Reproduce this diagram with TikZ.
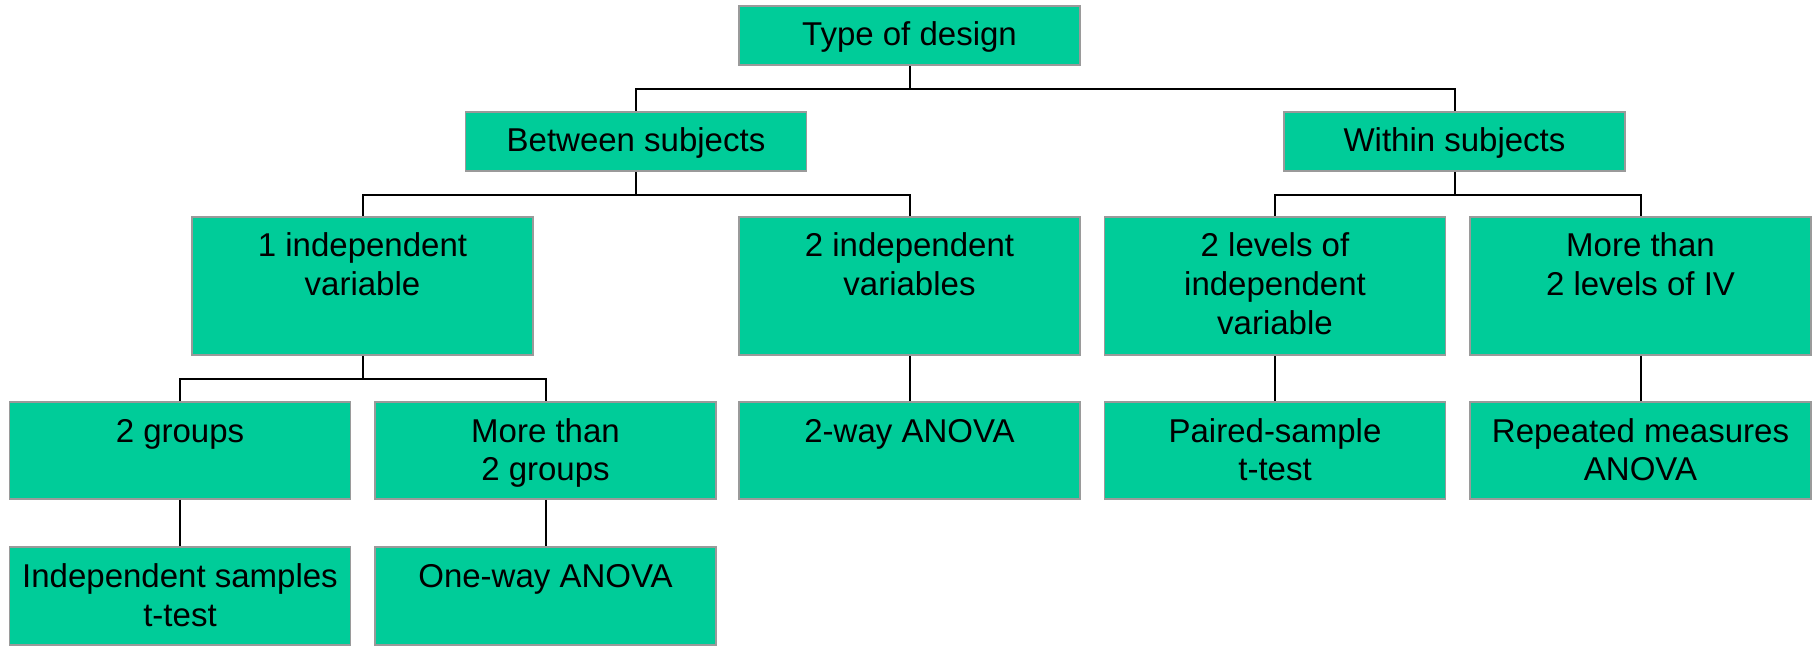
\documentclass[tikz,border=0pt]{standalone}
\usepackage{fontspec}
\setmainfont{Liberation Sans}
\usetikzlibrary{positioning}

\definecolor{boxgreen}{HTML}{00CC99}
\definecolor{boxedge}{HTML}{9A9A9A}

% text set from the top of a box of fixed height
\newcommand{\celltext}[2]{\parbox[c][#1][t]{170.5pt}{\centering\rule{0pt}{20pt}#2}}

\begin{document}
\begin{tikzpicture}[
        x=0.5pt, y=-0.5pt,
        box/.style={draw=boxedge, fill=boxgreen, rectangle, line width=0.8pt, inner sep=0pt, font=\fontsize{16.5pt}{19.5pt}\selectfont},
        link/.style={draw=black, line width=1pt}
    ]
        \useasboundingbox (0,0) rectangle (1814,646);

        % 1. Top
        \node[box] (design) at (909.5,35.5) {\celltext{29.5pt}{Type of design}};

        % 2. Between / within
        \node[box] (between) at (636,141.5) {\celltext{29.5pt}{Between subjects}};
        \node[box] (within) at (1454.5,141.5) {\celltext{29.5pt}{Within subjects}};

        % 3. Independent variables / levels
        \node[box] (oneiv) at (362.5,286) {\celltext{69pt}{1 independent\\variable}};
        \node[box] (twoiv) at (909.5,286) {\celltext{69pt}{2 independent\\variables}};
        \node[box] (twolev) at (1275,286) {\celltext{69pt}{2 levels of\\independent\\variable}};
        \node[box] (morelev) at (1640.5,286) {\celltext{69pt}{More than\\2 levels of IV}};

        % 4. Groups and tests
        \node[box] (twogrp) at (180,450.5) {\celltext{48.5pt}{2 groups}};
        \node[box] (moregrp) at (545.5,450.5) {\celltext{48.5pt}{More than\\2 groups}};
        \node[box] (twoway) at (909.5,450.5) {\celltext{48.5pt}{2-way ANOVA}};
        \node[box] (paired) at (1275,450.5) {\celltext{48.5pt}{Paired-sample\\t-test}};
        \node[box] (repeated) at (1640.5,450.5) {\celltext{48.5pt}{Repeated measures\\ANOVA}};

        % 5. Bottom tests
        \node[box] (indep) at (180,596) {\celltext{49pt}{Independent samples\\t-test}};
        \node[box] (oneway) at (545.5,596) {\celltext{49pt}{One-way ANOVA}};

        % Ligações
        \coordinate (barA) at ([yshift=-11.5pt]design.south);
        \draw[link] (design.south) -- (barA) -| (between.north);
        \draw[link] (barA) -| (within.north);

        \coordinate (barB) at ([yshift=-11.5pt]between.south);
        \draw[link] (between.south) -- (barB) -| (oneiv.north);
        \draw[link] (barB) -| (twoiv.north);

        \coordinate (barC) at ([yshift=-11.5pt]within.south);
        \draw[link] (within.south) -- (barC) -| (twolev.north);
        \draw[link] (barC) -| (morelev.north);

        \coordinate (barD) at ([yshift=-11.5pt]oneiv.south);
        \draw[link] (oneiv.south) -- (barD) -| (twogrp.north);
        \draw[link] (barD) -| (moregrp.north);

        \draw[link] (twoiv) -- (twoway);
        \draw[link] (twolev) -- (paired);
        \draw[link] (morelev) -- (repeated);
        \draw[link] (twogrp) -- (indep);
        \draw[link] (moregrp) -- (oneway);
\end{tikzpicture}
\end{document}
